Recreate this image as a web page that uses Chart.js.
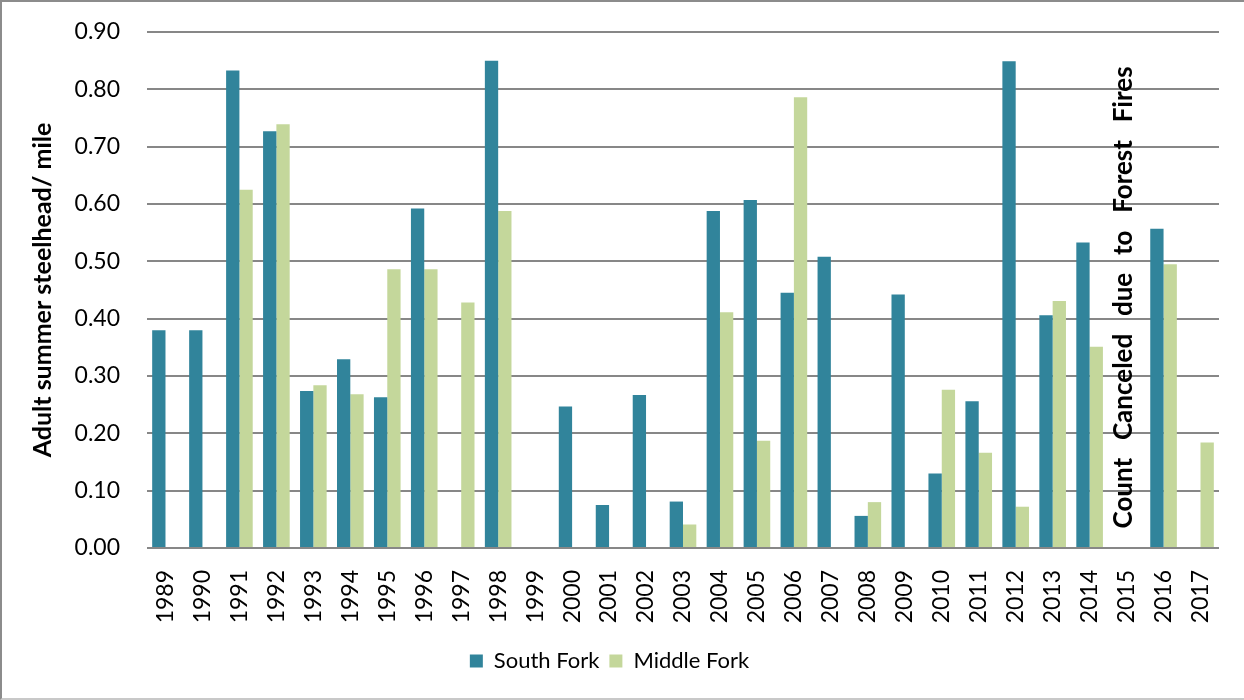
<!DOCTYPE html>
<html>
<head>
<meta charset="utf-8">
<script src="https://cdn.jsdelivr.net/npm/chart.js@4/dist/chart.umd.min.js"></script>
<style>
  html, body { margin: 0; padding: 0; background: #fff; }
  #wrap { position: relative; width: 1244px; height: 700px; }
  #frame {
    position: absolute; left: 0; top: 0; width: 1244px; height: 700px;
    box-sizing: border-box; pointer-events: none;
    border-left: 2px solid #8c8c8c; border-top: 2px solid #8c8c8c; border-bottom: 2px solid #c8c8c8;
  }
</style>
</head>
<body>
<div id="wrap">
  <canvas id="myChart" width="1244" height="700"></canvas>
  <div id="frame"></div>
</div>
<script>
const years = ["1989", "1990", "1991", "1992", "1993", "1994", "1995", "1996", "1997", "1998",
  "1999", "2000", "2001", "2002", "2003", "2004", "2005", "2006", "2007", "2008",
  "2009", "2010", "2011", "2012", "2013", "2014", "2015", "2016", "2017"];

const southFork = [0.38, 0.38, 0.833, 0.727, 0.274, 0.329, 0.263, 0.592, null, 0.85,
  null, 0.247, 0.075, 0.267, 0.081, 0.588, 0.607, 0.445, 0.508, 0.056,
  0.442, 0.13, 0.256, 0.849, 0.406, 0.533, null, 0.557, null];

const middleFork = [null, null, 0.625, 0.739, 0.284, 0.268, 0.486, 0.486, 0.428, 0.588,
  null, null, null, null, 0.041, 0.411, 0.187, 0.786, null, 0.08,
  null, 0.276, 0.166, 0.072, 0.431, 0.351, null, 0.495, 0.184];

const yMin = 0;
const yMax = 0.9;
const yStep = 0.1;

const note = "Count Canceled due to Forest Fires";
const noteYear = "2015";

Chart.defaults.font.family = "Lato";
Chart.defaults.color = "#000";

// vertical text over the 2015 slot, words spread out like the original
const notePlugin = {
  id: "note",
  afterDatasetsDraw(chart) {
    const { ctx, scales: { x, y } } = chart;
    const cx = x.getPixelForValue(years.indexOf(noteYear)) - 3;
    const bottom = y.getPixelForValue(0.034);
    const top = y.getPixelForValue(0.84);
    ctx.save();
    ctx.font = "bold 26px Lato";
    ctx.fillStyle = "#000";
    ctx.textBaseline = "middle";
    const words = note.split(" ");
    const widths = words.map((w) => ctx.measureText(w).width);
    const used = widths.reduce((a, b) => a + b, 0);
    const gap = (bottom - top - used) / (words.length - 1);
    ctx.translate(cx, bottom);
    ctx.rotate(-Math.PI / 2);
    let pos = 0;
    words.forEach((w, i) => {
      ctx.fillText(w, pos, 0);
      pos += widths[i] + gap;
    });
    ctx.restore();
  },
};

const ctx = document.getElementById("myChart");
new Chart(ctx, {
  type: "bar",
  data: {
    labels: years,
    datasets: [
      {
        label: "South Fork",
        data: southFork,
        backgroundColor: "#31849B",
        categoryPercentage: 0.72,
        barPercentage: 1.0,
      },
      {
        label: "Middle Fork",
        data: middleFork,
        backgroundColor: "#C4D79B",
        categoryPercentage: 0.72,
        barPercentage: 1.0,
      },
    ],
  },
  options: {
    responsive: false,
    animation: false,
    devicePixelRatio: 1,
    layout: {
      padding: { top: 32, right: 25, left: 0, bottom: 18 },
    },
    plugins: {
      tooltip: { enabled: false },
      legend: {
        position: "bottom",
        labels: {
          boxWidth: 13,
          boxHeight: 13,
          padding: 10,
          font: { size: 22 },
          color: "#000",
        },
      },
    },
    scales: {
      x: {
        grid: { display: false },
        border: { display: false },
        ticks: {
          autoSkip: false,
          minRotation: 90,
          maxRotation: 90,
          padding: 14,
          font: { size: 23 },
          color: "#000",
        },
        afterFit: (scale) => {
          scale.height = 92;
        },
      },
      y: {
        min: yMin,
        max: yMax,
        grid: { color: "#878787", lineWidth: 2, drawTicks: false },
        border: { display: false },
        ticks: {
          stepSize: yStep,
          padding: 27,
          font: { size: 23 },
          color: "#000",
          callback: (v) => v.toFixed(2),
        },
        title: {
          display: true,
          text: "Adult summer steelhead/ mile",
          font: { size: 25, weight: "bold" },
          color: "#000",
          padding: { top: 28, bottom: 0 },
        },
        afterFit: (scale) => {
          scale.width = 147;
          scale.paddingTop = 14;
          scale.paddingBottom = 14;
        },
      },
    },
  },
  plugins: [notePlugin],
});
</script>
</body>
</html>
